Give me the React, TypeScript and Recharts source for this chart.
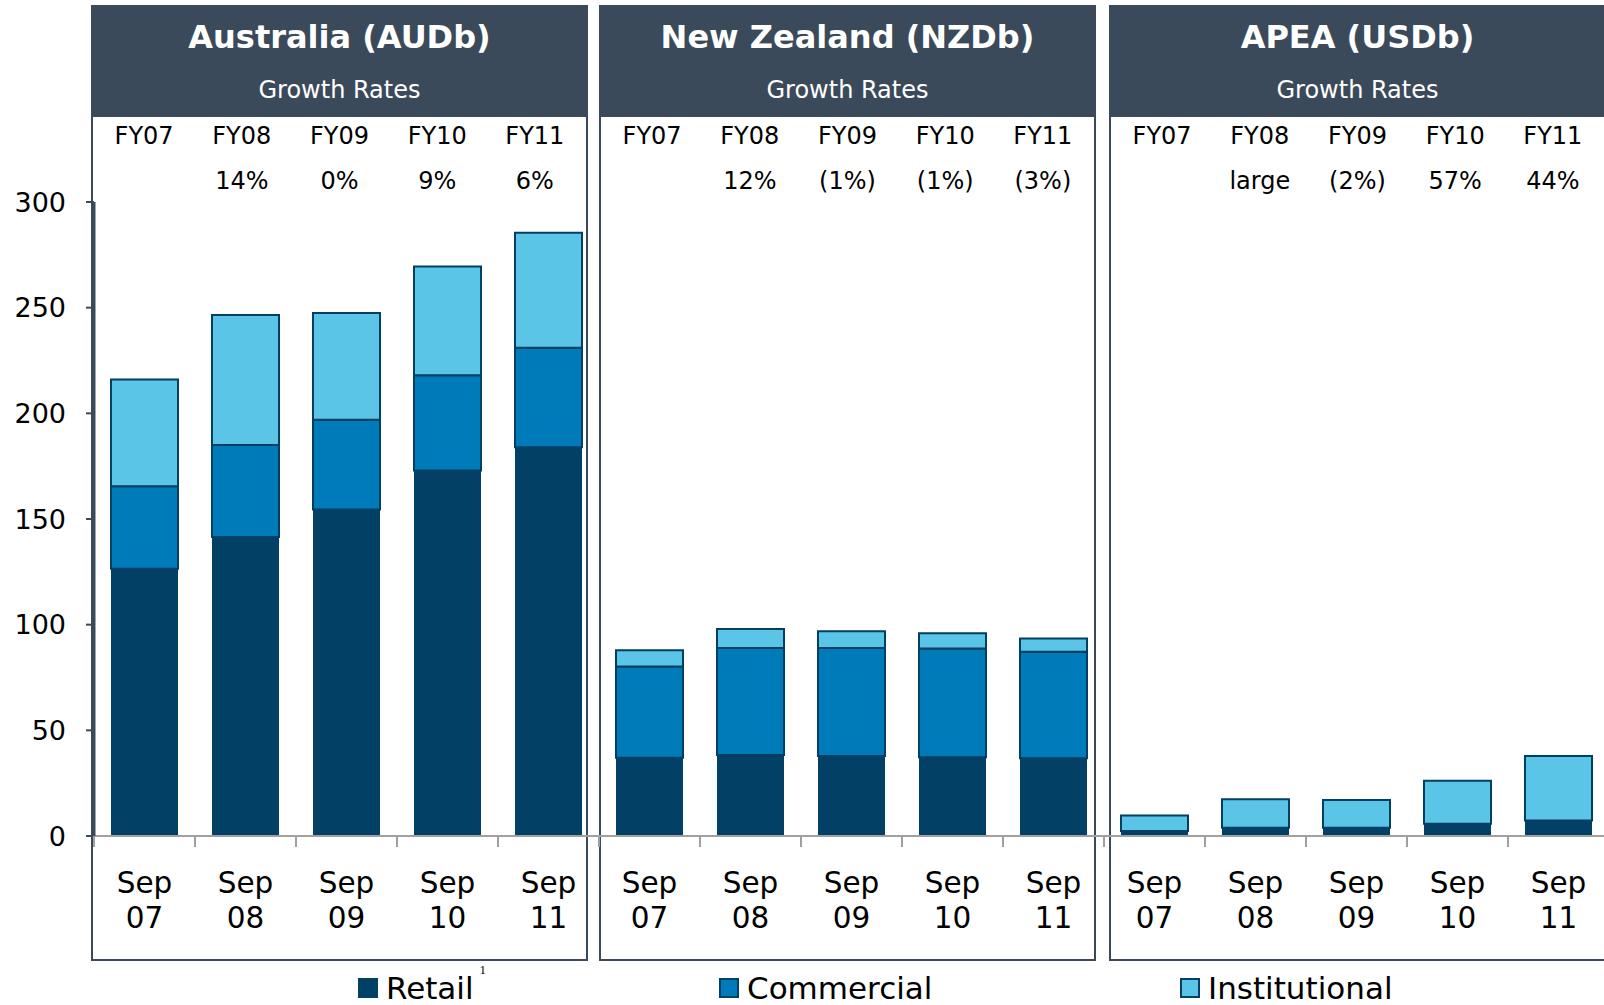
import React from 'react'
import { BarChart, Bar, XAxis, YAxis, Legend } from 'recharts'

const periods = ['07', '08', '09', '10', '11']
const fyLabels = ['FY07', 'FY08', 'FY09', 'FY10', 'FY11']
const regions = ['Australia (AUDb)', 'New Zealand (NZDb)', 'APEA (USDb)']
const yTicks = [0, 50, 100, 150, 200, 250, 300]

// growth rates per region
const auGrowth = ['', '14%', '0%', '9%', '6%']
const nzGrowth = ['', '12%', '(1%)', '(1%)', '(3%)']
const apGrowth = ['', 'large', '(2%)', '57%', '44%']

// values per region, Sep 07 .. Sep 11
const auRetail = [126.5, 141.5, 154.5, 173, 184]
const auCommercial = [39, 43.5, 42.5, 45, 47]
const auInstitutional = [50.5, 61.5, 50.5, 51.5, 54.5]

const nzRetail = [37, 38.3, 37.8, 37.3, 36.8]
const nzCommercial = [43.2, 50.7, 51.2, 51.4, 50.4]
const nzInstitutional = [7.7, 8.9, 7.9, 7.2, 6.3]

const apRetail = [2.4, 3.9, 3.9, 5.8, 7.3]
const apCommercial = [0, 0, 0, 0, 0]
const apInstitutional = [7.3, 13.5, 13.1, 20.4, 30.5]

const series = [
  { key: 'retail', name: 'Retail', color: '#024066' },
  { key: 'commercial', name: 'Commercial', color: '#007bba' },
  { key: 'institutional', name: 'Institutional', color: '#5bc5e8' },
]

const regionData = [
  { growth: auGrowth, retail: auRetail, commercial: auCommercial, institutional: auInstitutional },
  { growth: nzGrowth, retail: nzRetail, commercial: nzCommercial, institutional: nzInstitutional },
  { growth: apGrowth, retail: apRetail, commercial: apCommercial, institutional: apInstitutional },
]

const rows = regionData.flatMap((r, ri) =>
  periods.map((p, i) => ({
    id: `${ri}-${p}`,
    period: p,
    retail: r.retail[i],
    commercial: r.commercial[i],
    institutional: r.institutional[i],
  }))
)

const FONT = '"DejaVu Sans", Verdana, sans-serif'
const SLATE = '#3b4a5a'
const CHART_W = 1620
const CHART_H = 1005
// legend box (40px) is added to the bottom offset by recharts
const MARGIN = { top: 202, right: 11, bottom: 29, left: 34 }
const Y_W = 60
const BAND = (CHART_W - MARGIN.left - MARGIN.right - Y_W) / rows.length

const BottomTick = (props: any) => {
  const { x, y, payload } = props
  const row = rows[payload.index]
  const isLast = payload.index === rows.length - 1
  return (
    <g>
      <line x1={x - BAND / 2} x2={x - BAND / 2} y1={y} y2={y + 11} stroke="#a0a0a0" strokeWidth={2} />
      {isLast && <line x1={x + BAND / 2} x2={x + BAND / 2} y1={y} y2={y + 11} stroke="#a0a0a0" strokeWidth={2} />}
      <text x={x} y={y + 47} textAnchor="middle" dominantBaseline="central" fontSize={29.5} fontFamily={FONT} fill="#000">
        Sep
      </text>
      <text x={x} y={y + 82} textAnchor="middle" dominantBaseline="central" fontSize={29.5} fontFamily={FONT} fill="#000">
        {row.period}
      </text>
    </g>
  )
}

const legendLeft = [358, 719, 1180]

const LegendContent = () => (
  <div style={{ position: 'relative', width: 1604, height: 40 }}>
    {series.map((s, i) => (
      <div
        key={s.key}
        style={{
          position: 'absolute',
          left: legendLeft[i],
          top: 0,
          display: 'flex',
          alignItems: 'center',
          fontFamily: FONT,
          fontSize: 31,
          color: '#000',
          whiteSpace: 'nowrap',
        }}
      >
        <span
          style={{
            display: 'inline-block',
            width: 16,
            height: 16,
            background: s.color,
            border: '2px solid #024066',
            marginRight: 8,
          }}
        />
        {s.name}
        {s.key === 'retail' && (
          <span style={{ fontSize: 13, marginLeft: 6, position: 'relative', top: -18, fontFamily: 'serif' }}>1</span>
        )}
      </div>
    ))}
  </div>
)

const panelLeft = [91, 599, 1109]

const cellStyle: React.CSSProperties = { width: 97.7, textAlign: 'center', whiteSpace: 'nowrap' }

const App = () => {
  return (
    <div style={{ position: 'relative', width: 1604, height: 1005, overflow: 'hidden', background: '#fff' }}>
      <style>{'body{margin:0}'}</style>
      {regions.map((name, i) => (
        <div
          key={name}
          style={{
            position: 'absolute',
            left: panelLeft[i],
            top: 5,
            width: 497,
            height: 956,
            border: `2px solid ${SLATE}`,
            boxSizing: 'border-box',
            fontFamily: FONT,
          }}
        >
          <div style={{ background: SLATE, height: 110, color: '#fff', textAlign: 'center' }}>
            <div style={{ fontSize: 32, fontWeight: 'bold', lineHeight: '60px' }}>{name}</div>
            <div style={{ fontSize: 24, lineHeight: '46px' }}>Growth Rates</div>
          </div>
          <div style={{ display: 'flex', justifyContent: 'center', fontSize: 24, lineHeight: '38px', color: '#000' }}>
            {fyLabels.map((fy) => (
              <div key={fy} style={cellStyle}>{fy}</div>
            ))}
          </div>
          <div
            style={{ display: 'flex', justifyContent: 'center', fontSize: 24, lineHeight: '38px', marginTop: 7, color: '#000' }}
          >
            {regionData[i].growth.map((g, j) => (
              <div key={j} style={cellStyle}>{g}</div>
            ))}
          </div>
        </div>
      ))}
      <div style={{ position: 'absolute', left: 0, top: 0 }}>
        <BarChart width={CHART_W} height={CHART_H} data={rows} margin={MARGIN} barSize={67}>
          <XAxis
            dataKey="id"
            height={100}
            interval={0}
            tickSize={0}
            tickMargin={0}
            tickLine={false}
            axisLine={{ stroke: '#a0a0a0', strokeWidth: 2 }}
            tick={<BottomTick />}
          />
          <YAxis
            width={Y_W}
            domain={[0, 300]}
            ticks={yTicks}
            interval={0}
            tickSize={8}
            tickMargin={20}
            axisLine={{ stroke: SLATE, strokeWidth: 3 }}
            tickLine={{ stroke: SLATE, strokeWidth: 2 }}
            tick={{ fontSize: 27, fontFamily: FONT, fill: '#000' }}
          />
          {series.map((s) => (
            <Bar
              key={s.key}
              dataKey={s.key}
              name={s.name}
              stackId="a"
              fill={s.color}
              stroke="#023f63"
              strokeWidth={s.key === 'retail' ? 0 : 2}
              isAnimationActive={false}
            />
          ))}
          <Legend
            content={<LegendContent />}
            wrapperStyle={{ position: 'absolute', left: 0, top: 970, width: 1604, height: 40 }}
          />
        </BarChart>
      </div>
    </div>
  )
}

export default App
